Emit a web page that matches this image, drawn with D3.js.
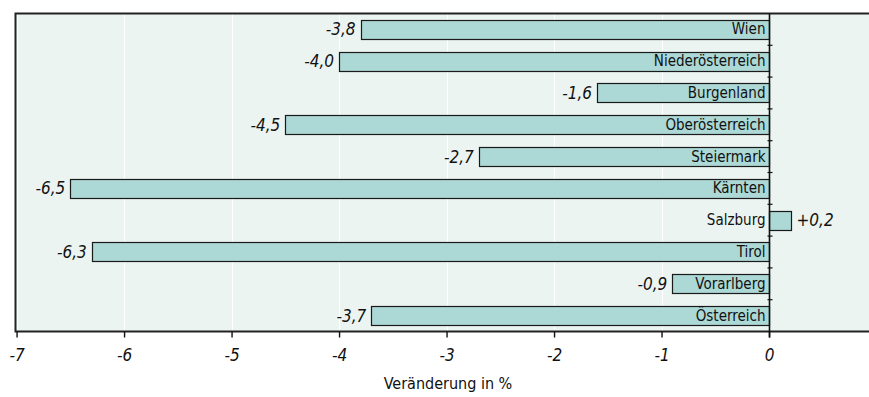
<!DOCTYPE html>
<html>
<head>
<meta charset="utf-8">
<script src="https://cdn.jsdelivr.net/npm/d3@7"></script>
<style>
  body { margin: 0; background: #fff; }
  svg { display: block; font-family: "Liberation Sans Narrow", "DejaVu Sans Condensed", sans-serif; }
</style>
</head>
<body>
<div id="chart"></div>
<script>
// data
const regions = ["Wien", "Niederösterreich", "Burgenland", "Oberösterreich", "Steiermark",
                 "Kärnten", "Salzburg", "Tirol", "Vorarlberg", "Österreich"];
const changes = [-3.8, -4.0, -1.6, -4.5, -2.7, -6.5, 0.2, -6.3, -0.9, -3.7];
const xTicks = [-7, -6, -5, -4, -3, -2, -1, 0];
const axisTitle = "Veränderung in %";

const width = 869, height = 397;
const plotLeft = 15.5, plotRight = 869, plotTop = 13.5, plotBottom = 331.5;

const svg = d3.select("#chart").append("svg")
    .attr("width", width)
    .attr("height", height);

const x = d3.scaleLinear().domain([-7.01, 0.93]).range([plotLeft, plotRight]);
const y = d3.scaleBand().domain(regions).range([plotTop, plotBottom]).paddingInner(0.4).paddingOuter(0.2);

// plot background
svg.append("rect")
    .attr("x", plotLeft).attr("y", plotTop)
    .attr("width", plotRight - plotLeft).attr("height", plotBottom - plotTop)
    .attr("fill", "#ebf4f1");

// white vertical gridlines
svg.selectAll(".grid")
    .data(xTicks)
    .enter()
    .append("line")
    .attr("x1", d => Math.round(x(d)) + 0.5)
    .attr("x2", d => Math.round(x(d)) + 0.5)
    .attr("y1", plotTop)
    .attr("y2", plotBottom)
    .attr("stroke", "#ffffff")
    .attr("stroke-width", 1);

// frame: top, left, bottom
svg.append("path")
    .attr("d", `M${plotRight},${plotTop}H${plotLeft}V${plotBottom}H${plotRight}`)
    .attr("fill", "none")
    .attr("stroke", "#222")
    .attr("stroke-width", 2);

// bars
svg.selectAll(".bar")
    .data(regions)
    .enter()
    .append("rect")
    .attr("x", (d, i) => Math.round(x(Math.min(0, changes[i]))) + 0.5)
    .attr("y", d => Math.round(y(d)) + 0.5)
    .attr("width", (d, i) => Math.abs(Math.round(x(changes[i])) - Math.round(x(0))))
    .attr("height", Math.round(y.bandwidth()))
    .attr("fill", "#acd8d6")
    .attr("stroke", "#1a1a1a")
    .attr("stroke-width", 1.2);

// zero line with small ticks between categories
const x0 = Math.round(x(0)) + 0.5;
svg.append("line")
    .attr("x1", x0).attr("x2", x0)
    .attr("y1", plotTop).attr("y2", plotBottom + 6)
    .attr("stroke", "#111")
    .attr("stroke-width", 1.6);

svg.selectAll(".ytick")
    .data(regions.slice(1))
    .enter()
    .append("line")
    .attr("x1", x0 - 2).attr("x2", x0 + 3)
    .attr("y1", d => y(d) - y.step() * y.paddingInner() / 2)
    .attr("y2", d => y(d) - y.step() * y.paddingInner() / 2)
    .attr("stroke", "#111")
    .attr("stroke-width", 1.2);

// category labels
svg.selectAll(".cat")
    .data(regions)
    .enter()
    .append("text")
    .attr("x", x0 - 4)
    .attr("y", d => y(d) + y.bandwidth() / 2 + 5)
    .attr("text-anchor", "end")
    .attr("font-size", 15)
    .attr("fill", "#111")
    .text(d => d);

// value labels
const fmt = v => (v > 0 ? "+" : "") + v.toFixed(1).replace(".", ",");
svg.selectAll(".val")
    .data(regions)
    .enter()
    .append("text")
    .attr("x", (d, i) => changes[i] < 0 ? x(changes[i]) - 5 : x(changes[i]) + 6)
    .attr("y", d => y(d) + y.bandwidth() / 2 + 6)
    .attr("text-anchor", (d, i) => changes[i] < 0 ? "end" : "start")
    .attr("font-size", 17)
    .attr("font-style", "italic")
    .attr("fill", "#111")
    .text((d, i) => fmt(changes[i]));

// x axis
const xAxis = svg.append("g")
    .attr("transform", `translate(0,${plotBottom})`)
    .call(d3.axisBottom(x).tickValues(xTicks).tickSize(6).tickFormat(d => d));
xAxis.select(".domain").remove();
xAxis.selectAll(".tick line").attr("stroke", "#111").attr("stroke-width", 1.4);
xAxis.selectAll(".tick text")
    .attr("dy", 0)
    .attr("y", 29)
    .attr("font-family", "\"Liberation Sans Narrow\", \"DejaVu Sans Condensed\", sans-serif")
    .attr("font-size", 17)
    .attr("font-style", "italic")
    .attr("fill", "#111");

svg.append("text")
    .attr("x", 448)
    .attr("y", 389)
    .attr("text-anchor", "middle")
    .attr("font-size", 16)
    .attr("fill", "#111")
    .text(axisTitle);
</script>
</body>
</html>
